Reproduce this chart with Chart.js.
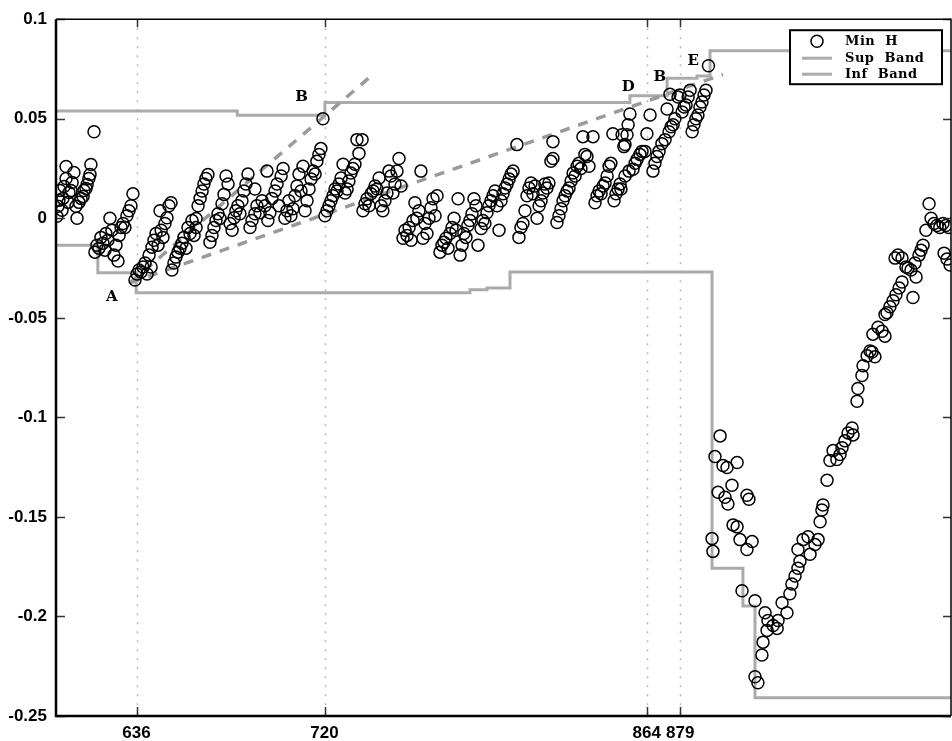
<!DOCTYPE html>
<html>
<head>
<meta charset="utf-8">
<script src="https://cdn.jsdelivr.net/npm/chart.js@4.4.0/dist/chart.umd.min.js"></script>
<style>
  html, body { margin: 0; padding: 0; background: #fff; }
</style>
</head>
<body>
<canvas id="myChart" width="952" height="741"></canvas>
<script>
const xTicks = [636, 720, 864, 879];
const yTicks = [-0.25, -0.2, -0.15, -0.1, -0.05, 0, 0.05, 0.1];

// step bands (value holds from its x to the next x)
const supX = [600, 681, 720.2, 856.5, 873.1, 886.5, 892.3, 1000];
const supY = [0.0539, 0.0518, 0.0581, 0.0616, 0.0703, 0.0715, 0.0842, 0.0842];
const infX = [600, 618.7, 635.8, 785, 792.6, 802.9, 893.2, 907, 912.4, 1000];
const infY = [-0.0135, -0.0274, -0.0374, -0.0359, -0.0350, -0.0270, -0.1758, -0.1947, -0.2408, -0.2408];

// dashed trend lines drawn from point A
const trendUpX = [633.1, 741.2];
const trendUpY = [-0.0324, 0.0718];
const trendLowX = [633.1, 898.1];
const trendLowY = [-0.0324, 0.0723];

// Min H samples, rising part (before the drop)
const minHRise = [
  [600.4,0.001],[600.9,0.006],[601.3,0.009],[601.8,0.014],[602.7,0.004],[603.1,0.010],[603.6,0.016],[604.5,0.026],[604.5,0.020],[605.4,0.008],[605.8,0.013],[606.7,0.014],[607.2,0.018],[608.0,0.023],
  [608.9,0.006],[609.4,0.000],[610.3,0.008],[611.2,0.010],[612.1,0.011],[612.5,0.014],[613.4,0.015],[613.9,0.017],[614.7,0.020],[615.2,0.022],[615.6,0.027],[617.0,0.0435],
  [617.4,-0.017],[618.3,-0.0135],[619.2,-0.015],[620.1,-0.0096],[621.0,-0.0125],[621.9,-0.016],[622.3,-0.0076],[623.2,-0.011],[624.1,0.000],[625.0,-0.006],[625.9,-0.0185],[626.8,-0.0135],[627.7,-0.0215],[628.2,-0.0086],[629.1,-0.0046],[630.0,-0.0026],[630.8,-0.0046],[631.7,0.0013],[632.6,0.0038],[633.5,0.0063],[634.4,0.0123],
  [635.3,-0.031],[636.2,-0.028],[637.1,-0.026],[638.0,-0.027],[638.9,-0.0245],[639.8,-0.0225],[640.7,-0.028],[641.6,-0.0185],[642.5,-0.0245],[642.9,-0.0145],[643.8,-0.011],[644.7,-0.0076],[645.6,-0.0135],[646.5,0.0038],[647.0,-0.006],[647.8,-0.0096],[648.7,-0.0026],[649.6,0.0003],[650.5,0.0063],[651.4,0.0078],
  [651.8,-0.026],[652.7,-0.0225],[653.6,-0.0195],[654.5,-0.017],[655.4,-0.015],[656.3,-0.0125],[657.2,-0.0096],[658.1,-0.015],[659.0,-0.0046],[659.9,-0.0076],[660.8,-0.0011],[661.7,-0.0086],[662.6,-0.0001],[662.6,-0.0046],[663.5,0.0063],[664.4,0.010],[665.3,0.0137],[666.1,0.0172],[667.0,0.020],[667.9,0.022],
  [668.8,-0.012],[669.7,-0.0086],[670.6,-0.0046],[671.5,-0.0011],[672.4,0.0023],[673.3,-0.0001],[674.2,0.0073],[675.1,0.012],[676.0,0.0212],[676.9,0.0172],[677.8,-0.0026],[678.7,-0.006],[679.6,0.0003],[680.4,0.0038],[681.3,0.0063],[682.2,0.0023],[683.1,0.0088],[684.0,0.0137],[684.9,0.0172],[685.8,0.0222],
  [686.7,-0.0046],[687.6,-0.0011],[688.9,0.0023],[688.9,0.0147],[689.8,0.0063],[691.2,0.0028],[692.1,0.0088],[693.4,0.0063],[694.3,0.0237],[694.7,-0.0011],[695.6,0.0028],[696.5,0.010],[697.9,0.0137],[698.8,0.0172],[699.7,0.0063],[700.6,0.0212],[701.5,0.025],[702.3,0.000],[703.2,0.0038],[704.1,0.0088],
  [705.0,0.0013],[705.9,0.0048],[706.8,0.0113],[707.7,0.0162],[708.6,0.0222],[709.5,0.0137],[710.4,0.0261],[711.3,0.0038],[712.2,0.0088],[713.1,0.0147],[714.0,0.0197],[714.9,0.0237],[715.8,0.0222],[716.6,0.0286],[717.5,0.032],[718.4,0.035],[719.3,0.050],
  [720.2,0.0013],[721.1,0.0038],[722.0,0.0063],[722.9,0.0088],[723.8,0.0113],[724.7,0.0147],[725.6,0.0137],[726.5,0.0172],[727.4,0.0202],[728.3,0.0271],[729.2,0.0127],[730.1,0.0147],[730.9,0.0187],[731.8,0.0227],[732.7,0.025],[733.6,0.0271],[734.5,0.0395],[735.4,0.0326],[736.8,0.0395],
  [737.2,0.0038],[738.1,0.0073],[739.0,0.0098],[739.9,0.0063],[740.8,0.0123],[741.7,0.0137],[742.6,0.0162],[743.5,0.0147],[744.4,0.0202],[745.3,0.0063],[746.1,0.0038],[747.0,0.0088],[747.9,0.0127],[748.8,0.0237],[749.7,0.0212],[750.6,0.0127],[751.5,0.0172],[752.4,0.0237],[753.3,0.030],[754.2,0.0162],
  [763.1,0.0237],
  [755.1,-0.010],[756.0,-0.006],[756.9,-0.0086],[757.8,-0.0046],[758.7,-0.011],[759.6,-0.0011],[760.4,0.0078],[761.3,0.000],[762.2,0.0038],[764.0,-0.010],[764.9,-0.0026],[765.8,-0.0076],[766.7,0.000],[767.6,0.0053],[768.5,0.0098],[769.4,0.0013],[770.3,0.0113],
  [771.6,-0.017],[772.5,-0.0135],[773.4,-0.012],[774.3,-0.010],[775.2,-0.015],[776.1,-0.0076],[777.0,-0.0046],[777.9,0.000],[778.8,-0.006],[779.7,0.0098],[780.6,-0.0185],[781.5,-0.0135],[782.3,-0.0076],[783.2,-0.0096],[784.1,-0.0036],[785.0,-0.0011],[785.9,0.0023],[786.8,0.0098],[787.7,0.0063],[788.6,-0.0135],
  [790.0,-0.0051],[790.8,-0.0011],[791.7,-0.0026],[792.6,0.0028],[793.5,0.0063],[794.4,0.0088],[795.3,0.0113],[796.2,0.0137],[797.1,0.0063],[798.0,-0.006],[798.9,0.0088],[799.8,0.0123],[800.7,0.0152],[801.6,0.0172],[802.5,0.0197],[803.4,0.0222],[804.3,0.0237],[806.0,0.037],
  [806.9,-0.0096],[807.8,-0.0046],[808.7,-0.0026],[809.6,0.0038],[810.5,0.0113],[811.4,0.0152],[812.3,0.0177],[813.2,0.0123],[814.1,0.0162],[815.0,0.000],[815.9,0.0063],[816.8,0.0088],[817.6,0.0127],[818.5,0.0172],[819.4,0.0152],[820.3,0.0177],[821.2,0.0286],[822.1,0.030],[822.1,0.0385],
  [823.9,-0.0021],[824.8,0.0013],[825.7,0.0048],[826.6,0.0088],[827.5,0.0113],[828.4,0.0137],[829.3,0.0152],[830.2,0.0187],[831.1,0.0227],[832.0,0.0212],[832.9,0.0261],[833.7,0.0276],[834.6,0.025],[835.5,0.041],[836.4,0.0321],[837.3,0.031],[838.2,0.0261],[840.0,0.041],
  [840.9,0.0078],[841.8,0.0113],[842.7,0.0137],[843.6,0.0123],[844.5,0.0162],[845.4,0.0177],[846.3,0.0212],[847.2,0.0261],[848.0,0.0276],[848.9,0.0425],[849.4,0.0088],[850.3,0.0123],[851.2,0.0147],[852.1,0.0172],[853.0,0.042],[853.8,0.036],
  [852.5,0.0147],[854.3,0.0371],[854.3,0.0212],[855.2,0.042],[855.7,0.047],[856.5,0.0524],[856.1,0.0237],[857.9,0.0246],[858.8,0.0276],[859.7,0.0296],[861.0,0.0321],[861.9,0.0336],[863.2,0.0336],[864.1,0.0425],[865.5,0.0519],[866.8,0.0237],[867.7,0.0276],[868.6,0.031],[869.5,0.0336],[870.8,0.0375],[872.2,0.0395],[873.1,0.0549],[874.0,0.0435],[874.4,0.0623],[874.9,0.046],[875.8,0.047],[876.6,0.050],[878.0,0.0609],[878.9,0.0619],[879.8,0.0534],[880.7,0.0559],[881.6,0.0569],[882.5,0.0609],[883.4,0.0643],[884.3,0.0435],[885.1,0.047],[886.0,0.050],[886.9,0.0519],[887.8,0.0559],[888.7,0.0584],[889.6,0.0619],[890.5,0.0643],[891.6,0.0766]
];

// Min H samples, drop and recovery (the V)
const minHValley = [
  [893.2,-0.1609],[893.6,-0.1673],[894.5,-0.1197],[895.9,-0.1376],[896.8,-0.1093],[898.1,-0.1242],[899.0,-0.1401],[899.9,-0.1252],[900.3,-0.1435],[902.1,-0.1341],[902.6,-0.154],[904.4,-0.1227],[904.4,-0.155],[905.7,-0.1614],[906.6,-0.1871],[908.8,-0.1391],[908.8,-0.1664],[909.7,-0.1411],[911.1,-0.1624],[912.4,-0.1921],[912.4,-0.2303],[913.7,-0.2333],[915.5,-0.2194],[916.0,-0.2129],[916.9,-0.1981],[917.8,-0.207],[918.2,-0.202],[920.5,-0.2045],[922.3,-0.206],[922.7,-0.202],[924.5,-0.1931],[926.7,-0.1981],[928.0,-0.1886],[928.9,-0.1837],[930.3,-0.1797],[931.6,-0.1758],[931.6,-0.1664],[932.5,-0.1723],[933.9,-0.1614],[936.1,-0.16],[937.0,-0.1688],[939.2,-0.1639],[940.6,-0.1614],[941.5,-0.1524],[942.3,-0.1465],[942.8,-0.144],[944.6,-0.1316],[945.9,-0.1217],[947.3,-0.1167],[949.0,-0.1212],[950.4,-0.1187],[951.3,-0.1152],[952.6,-0.1118],[954.0,-0.1078],[955.8,-0.1053],[956.2,-0.1088],[958.0,-0.0919],[958.4,-0.0855],[960.2,-0.079],[960.7,-0.0741],[962.5,-0.0691],[963.8,-0.0667],[964.7,-0.0672],[966.0,-0.0696],[965.1,-0.0582],[967.4,-0.0547],[969.2,-0.0567],[970.5,-0.0592],[970.5,-0.0483],[971.4,-0.0474],[972.7,-0.0444],[974.1,-0.0414],[975.4,-0.0384],[976.8,-0.035],[978.1,-0.032],[975.0,-0.02],[976.3,-0.0185],[978.1,-0.02],[979.9,-0.0245],[980.8,-0.025],[982.1,-0.026],[983.0,-0.0398],[984.4,-0.0295],[983.9,-0.0225],[985.7,-0.0185],[986.6,-0.016],[987.5,-0.0135],[988.8,-0.006],[990.2,0.0073],[991.1,0.000],[992.4,-0.0026],[993.7,-0.0036],[995.0,-0.0046],[996.4,-0.0026],[997.7,-0.0036],[999.0,-0.0046],[996.9,-0.0175],[998.2,-0.0205],[999.6,-0.0235]
];

const marks = [
  { text: 'A', x: 625.0, y: -0.0398 },
  { text: 'B', x: 709.8, y: 0.0609 },
  { text: 'D', x: 855.8, y: 0.0661 },
  { text: 'B', x: 869.9, y: 0.0711 },
  { text: 'E', x: 884.8, y: 0.0787 }
];

const bandColor = '#ababab';
const toXY = (xs, ys) => xs.map((x, i) => ({ x: x, y: ys[i] }));
const fmtY = v => String(Number(v.toFixed(2)));

const decorations = {
    id: 'decorations',
    beforeDatasetsDraw(chart) {
        const { ctx, chartArea: a, scales: { x } } = chart;
        ctx.save();
        ctx.strokeStyle = '#b8b8b8';
        ctx.lineWidth = 1.5;
        ctx.setLineDash([2, 7]);
        xTicks.forEach(v => {
            const px = Math.round(x.getPixelForValue(v)) + 0.5;
            ctx.beginPath();
            ctx.moveTo(px, a.top);
            ctx.lineTo(px, a.bottom);
            ctx.stroke();
        });
        ctx.restore();
    },
    afterDatasetsDraw(chart) {
        const { ctx, chartArea: a, scales: { x, y } } = chart;
        ctx.save();

        // inward ticks
        ctx.strokeStyle = '#333';
        ctx.lineWidth = 1.5;
        xTicks.forEach(v => {
            const px = Math.round(x.getPixelForValue(v)) + 0.5;
            ctx.beginPath();
            ctx.moveTo(px, a.bottom); ctx.lineTo(px, a.bottom - 9);
            ctx.moveTo(px, a.top); ctx.lineTo(px, a.top + 8);
            ctx.stroke();
        });
        yTicks.forEach(v => {
            const py = Math.round(y.getPixelForValue(v)) + 0.5;
            ctx.beginPath();
            ctx.moveTo(a.left, py); ctx.lineTo(a.left + 9, py);
            ctx.moveTo(a.right, py); ctx.lineTo(a.right - 8, py);
            ctx.stroke();
        });

        // frame
        ctx.strokeStyle = '#000';
        ctx.lineWidth = 1.5;
        ctx.beginPath();
        ctx.moveTo(a.left, a.top); ctx.lineTo(a.right, a.top); ctx.lineTo(a.right, a.bottom);
        ctx.stroke();
        ctx.lineWidth = 2.5;
        ctx.beginPath();
        ctx.moveTo(a.left, a.top); ctx.lineTo(a.left, a.bottom); ctx.lineTo(a.right, a.bottom);
        ctx.stroke();

        // letters on the plot
        ctx.fillStyle = '#000';
        ctx.font = 'bold 15px "DejaVu Serif"';
        ctx.textAlign = 'center';
        ctx.textBaseline = 'middle';
        marks.forEach(m => ctx.fillText(m.text, x.getPixelForValue(m.x), y.getPixelForValue(m.y)));

        // legend box
        const lx = a.right - 161, ly = a.top + 11, lw = 152, lh = 54;
        ctx.fillStyle = '#fff';
        ctx.fillRect(lx, ly, lw, lh);
        ctx.strokeStyle = '#000';
        ctx.lineWidth = 2;
        ctx.strokeRect(lx, ly, lw, lh);

        ctx.lineWidth = 1.5;
        ctx.beginPath();
        ctx.arc(lx + 27, ly + 11, 6, 0, Math.PI * 2);
        ctx.stroke();
        ctx.strokeStyle = bandColor;
        ctx.lineWidth = 3;
        [28, 44].forEach(dy => {
            ctx.beginPath();
            ctx.moveTo(lx + 12, ly + dy); ctx.lineTo(lx + 42, ly + dy);
            ctx.stroke();
        });

        ctx.fillStyle = '#000';
        ctx.font = 'bold 13px "DejaVu Serif"';
        ctx.textAlign = 'left';
        if ('letterSpacing' in ctx) ctx.letterSpacing = '0.5px';
        ctx.fillText('Min  H', lx + 55, ly + 11);
        ctx.fillText('Sup  Band', lx + 55, ly + 28);
        ctx.fillText('Inf  Band', lx + 55, ly + 44);
        ctx.restore();
    }
};

const tickFont = { family: '"Liberation Sans", Arial, sans-serif', size: 17, weight: 'bold' };
const ctx = document.getElementById('myChart').getContext('2d');

new Chart(ctx, {
    type: 'scatter',
    data: {
        datasets: [
            {
                label: 'Min H',
                data: minHRise.concat(minHValley).map(p => ({ x: p[0], y: p[1] })),
                pointStyle: 'circle',
                pointRadius: 6,
                borderColor: '#000',
                backgroundColor: 'rgba(0,0,0,0)',
                borderWidth: 1.5,
                showLine: false,
                order: 0
            },
            {
                label: 'Sup Band',
                type: 'line',
                data: toXY(supX, supY),
                stepped: 'before',
                borderColor: bandColor,
                borderWidth: 3,
                pointRadius: 0,
                fill: false,
                order: 2
            },
            {
                label: 'Inf Band',
                type: 'line',
                data: toXY(infX, infY),
                stepped: 'before',
                borderColor: bandColor,
                borderWidth: 3,
                pointRadius: 0,
                fill: false,
                order: 2
            },
            {
                label: 'trend up',
                type: 'line',
                data: toXY(trendUpX, trendUpY),
                borderColor: '#9a9a9a',
                borderWidth: 3.5,
                borderDash: [10, 9],
                pointRadius: 0,
                fill: false,
                order: 1
            },
            {
                label: 'trend low',
                type: 'line',
                data: toXY(trendLowX, trendLowY),
                borderColor: '#9a9a9a',
                borderWidth: 3.5,
                borderDash: [10, 9],
                pointRadius: 0,
                fill: false,
                order: 1
            }
        ]
    },
    options: {
        responsive: false,
        animation: false,
        layout: { padding: { top: 12, right: 1, left: 0, bottom: 0 }, autoPadding: false },
        plugins: {
            legend: { display: false },
            tooltip: { enabled: false }
        },
        scales: {
            x: {
                type: 'linear',
                min: 600,
                max: 1000,
                afterBuildTicks: s => { s.ticks = xTicks.map(v => ({ value: v })); },
                afterFit: s => { s.height = 25; },
                grid: { display: false, drawTicks: false },
                border: { display: false },
                ticks: { font: tickFont, color: '#000', padding: 7, autoSkip: false, maxRotation: 0, callback: v => String(v) }
            },
            y: {
                type: 'linear',
                min: -0.25,
                max: 0.1,
                afterBuildTicks: s => { s.ticks = yTicks.map(v => ({ value: v })); },
                afterFit: s => { s.width = 56; },
                grid: { display: false, drawTicks: false },
                border: { display: false },
                ticks: { font: tickFont, color: '#000', padding: 9, callback: v => fmtY(v) }
            }
        }
    },
    plugins: [decorations]
});
</script>
</body>
</html>
